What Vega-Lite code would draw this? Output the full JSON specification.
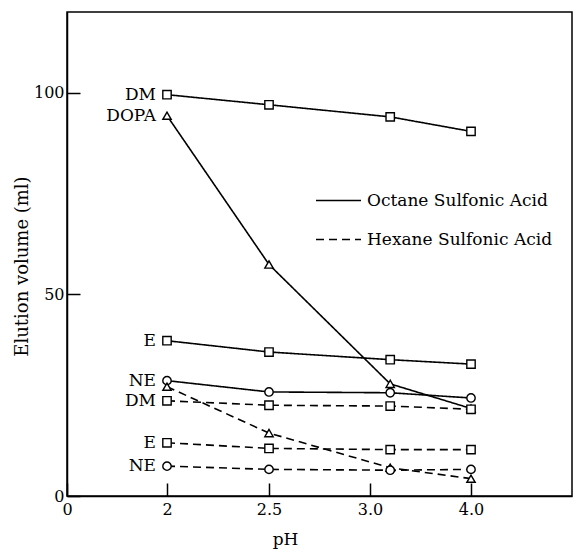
{
  "$schema": "https://vega.github.io/schema/vega-lite/v6.json",
  "width": 505,
  "height": 484,
  "autosize": {"type": "none"},
  "padding": {"left": 67, "top": 12, "right": 7, "bottom": 53},
  "background": "white",
  "config": {
    "font": "DejaVu Serif",
    "view": {"stroke": "black", "strokeWidth": 1.5},
    "axis": {
      "grid": false,
      "domainColor": "black",
      "domainWidth": 1.5,
      "tickColor": "black",
      "tickWidth": 1.5,
      "labelColor": "black",
      "labelFont": "DejaVu Serif",
      "labelFontSize": 16,
      "titleFont": "DejaVu Serif",
      "titleFontWeight": "normal",
      "titleColor": "black",
      "titleFontSize": 17
    },
    "legend": {
      "labelFont": "DejaVu Serif",
      "labelFontSize": 17,
      "labelColor": "black"
    }
  },
  "data": {
    "values": [
      {"compound": "DM", "acid": "Octane Sulfonic Acid", "pH": 2.0, "vol": 99.5},
      {"compound": "DM", "acid": "Octane Sulfonic Acid", "pH": 2.5, "vol": 97.0},
      {"compound": "DM", "acid": "Octane Sulfonic Acid", "pH": 3.2, "vol": 94.0},
      {"compound": "DM", "acid": "Octane Sulfonic Acid", "pH": 4.0, "vol": 90.4},
      {"compound": "DOPA", "acid": "Octane Sulfonic Acid", "pH": 2.0, "vol": 94.3},
      {"compound": "DOPA", "acid": "Octane Sulfonic Acid", "pH": 2.5, "vol": 57.4},
      {"compound": "DOPA", "acid": "Octane Sulfonic Acid", "pH": 3.2, "vol": 27.8},
      {"compound": "DOPA", "acid": "Octane Sulfonic Acid", "pH": 4.0, "vol": 21.7},
      {"compound": "E", "acid": "Octane Sulfonic Acid", "pH": 2.0, "vol": 38.5},
      {"compound": "E", "acid": "Octane Sulfonic Acid", "pH": 2.5, "vol": 35.7},
      {"compound": "E", "acid": "Octane Sulfonic Acid", "pH": 3.2, "vol": 33.8},
      {"compound": "E", "acid": "Octane Sulfonic Acid", "pH": 4.0, "vol": 32.7},
      {"compound": "NE", "acid": "Octane Sulfonic Acid", "pH": 2.0, "vol": 28.6},
      {"compound": "NE", "acid": "Octane Sulfonic Acid", "pH": 2.5, "vol": 25.8},
      {"compound": "NE", "acid": "Octane Sulfonic Acid", "pH": 3.2, "vol": 25.6},
      {"compound": "NE", "acid": "Octane Sulfonic Acid", "pH": 4.0, "vol": 24.3},
      {"compound": "DM", "acid": "Hexane Sulfonic Acid", "pH": 2.0, "vol": 23.6},
      {"compound": "DM", "acid": "Hexane Sulfonic Acid", "pH": 2.5, "vol": 22.5},
      {"compound": "DM", "acid": "Hexane Sulfonic Acid", "pH": 3.2, "vol": 22.3},
      {"compound": "DM", "acid": "Hexane Sulfonic Acid", "pH": 4.0, "vol": 21.5},
      {"compound": "DOPA", "acid": "Hexane Sulfonic Acid", "pH": 2.0, "vol": 27.1},
      {"compound": "DOPA", "acid": "Hexane Sulfonic Acid", "pH": 2.5, "vol": 15.6},
      {"compound": "DOPA", "acid": "Hexane Sulfonic Acid", "pH": 3.2, "vol": 7.0},
      {"compound": "DOPA", "acid": "Hexane Sulfonic Acid", "pH": 4.0, "vol": 4.3},
      {"compound": "E", "acid": "Hexane Sulfonic Acid", "pH": 2.0, "vol": 13.2},
      {"compound": "E", "acid": "Hexane Sulfonic Acid", "pH": 2.5, "vol": 11.8},
      {"compound": "E", "acid": "Hexane Sulfonic Acid", "pH": 3.2, "vol": 11.5},
      {"compound": "E", "acid": "Hexane Sulfonic Acid", "pH": 4.0, "vol": 11.5},
      {"compound": "NE", "acid": "Hexane Sulfonic Acid", "pH": 2.0, "vol": 7.4},
      {"compound": "NE", "acid": "Hexane Sulfonic Acid", "pH": 2.5, "vol": 6.6},
      {"compound": "NE", "acid": "Hexane Sulfonic Acid", "pH": 3.2, "vol": 6.4},
      {"compound": "NE", "acid": "Hexane Sulfonic Acid", "pH": 4.0, "vol": 6.6}
    ]
  },
  "encoding": {
    "x": {
      "field": "pH",
      "type": "quantitative",
      "scale": {"domain": [0, 2, 2.5, 3, 4, 5], "range": [0, 100, 202, 303, 404, 505], "nice": false, "zero": false},
      "axis": {
        "values": [0, 2, 2.5, 3, 4],
        "labelExpr": "datum.value == 0 ? '0' : datum.value == 2 ? '2' : format(datum.value, '.1f')",
        "tickSize": -13,
        "labelPadding": 18,
        "labelFlush": false,
        "title": "pH",
        "titleX": 218,
        "titleY": 48,
        "titleBaseline": "alphabetic"
      }
    },
    "y": {
      "field": "vol",
      "type": "quantitative",
      "scale": {"domain": [0, 120], "nice": false},
      "axis": {
        "values": [0, 50, 100],
        "tickSize": -13,
        "labelPadding": 16,
        "title": "Elution volume (ml)",
        "titleFontSize": 18,
        "titleAngle": 270,
        "titleX": -45,
        "titleY": 254,
        "titleAlign": "center",
        "titleBaseline": "middle"
      }
    }
  },
  "layer": [
    {
      "mark": {"type": "line", "color": "black", "strokeWidth": 1.6},
      "encoding": {
        "detail": {"field": "compound"},
        "strokeDash": {
          "field": "acid",
          "type": "nominal",
          "scale": {"domain": ["Octane Sulfonic Acid", "Hexane Sulfonic Acid"], "range": [[1, 0], [8, 5]]},
          "legend": {
            "title": null,
            "orient": "none",
            "legendX": 248,
            "legendY": 165,
            "symbolType": "stroke",
            "symbolSize": 2025,
            "symbolStrokeColor": "black",
            "symbolStrokeWidth": 1.6,
            "rowPadding": 7,
            "labelOffset": 5,
            "labelLimit": 300
          }
        }
      }
    },
    {
      "mark": {"type": "point", "filled": false, "fill": "white", "fillOpacity": 1, "stroke": "black", "strokeWidth": 1.4, "size": 70},
      "encoding": {
        "shape": {
          "field": "compound",
          "type": "nominal",
          "scale": {"domain": ["DM", "DOPA", "E", "NE"], "range": ["square", "triangle-up", "square", "circle"]},
          "legend": null
        }
      }
    },
    {
      "transform": [
        {"filter": "datum.pH == 2 && !(datum.compound == 'DOPA' && datum.acid == 'Hexane Sulfonic Acid')"}
      ],
      "mark": {"type": "text", "align": "right", "baseline": "middle", "dx": -11, "font": "DejaVu Serif", "fontSize": 17, "color": "black"},
      "encoding": {
        "text": {"field": "compound"}
      }
    }
  ]
}
